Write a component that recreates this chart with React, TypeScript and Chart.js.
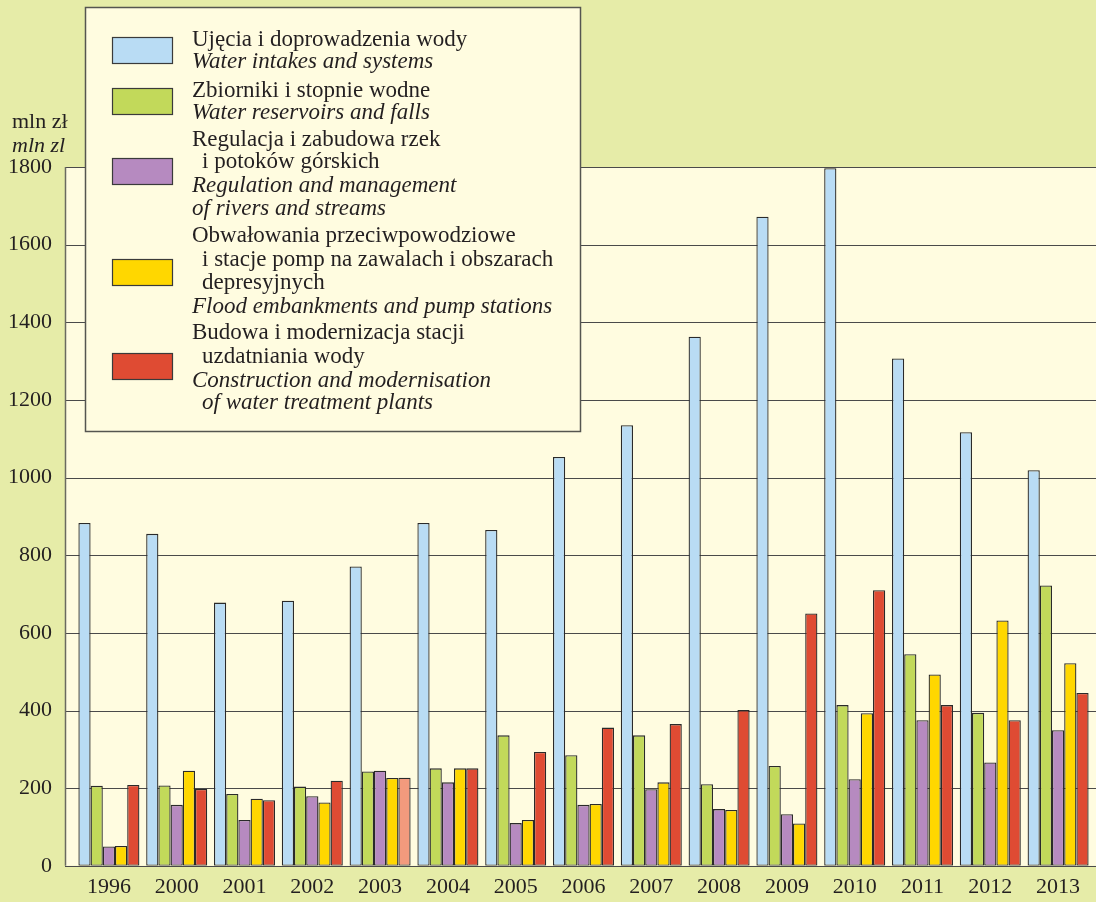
import React, { useEffect, useRef } from "react";
import { Chart, registerables } from "chart.js";

Chart.register(...registerables);

const years = ["1996", "2000", "2001", "2002", "2003", "2004", "2005", "2006", "2007", "2008", "2009", "2010", "2011", "2012", "2013"];
const intakes = [883, 855, 678, 683, 771, 883, 865, 1053, 1135, 1363, 1672, 1797, 1307, 1117, 1019];
const reservoirs = [206, 207, 185, 204, 243, 251, 336, 285, 336, 210, 257, 414, 545, 394, 722];
const regulation = [50, 157, 118, 179, 245, 215, 110, 157, 197, 146, 133, 223, 375, 266, 349];
const flood = [51, 245, 173, 163, 226, 251, 118, 159, 215, 144, 109, 393, 493, 632, 522];
const treatment = [208, 198, 169, 219, 227, 251, 293, 356, 365, 401, 650, 710, 414, 375, 445];

const yTitle = ["mln zł", "mln zl"];

const COLORS = {
  intakes: "#b9dcf4",
  reservoirs: "#c2d95a",
  regulation: "#b68ac0",
  flood: "#ffd700",
  treatment: "#df4b33",
  treatmentLight: "#f39a7d",
};

// legend lines: [text, italic, indent]
const legendGroups: { color: string; lines: [string, boolean, boolean][] }[] = [
  { color: COLORS.intakes, lines: [["Ujęcia i doprowadzenia wody", false, false], ["Water intakes and systems", true, false]] },
  { color: COLORS.reservoirs, lines: [["Zbiorniki i stopnie wodne", false, false], ["Water reservoirs and falls", true, false]] },
  {
    color: COLORS.regulation,
    lines: [
      ["Regulacja i zabudowa rzek", false, false],
      ["i potoków górskich", false, true],
      ["Regulation and management", true, false],
      ["of rivers and streams", true, false],
    ],
  },
  {
    color: COLORS.flood,
    lines: [
      ["Obwałowania przeciwpowodziowe", false, false],
      ["i stacje pomp na zawalach i obszarach", false, true],
      ["depresyjnych", false, true],
      ["Flood embankments and pump stations", true, false],
    ],
  },
  {
    color: COLORS.treatment,
    lines: [
      ["Budowa i modernizacja stacji", false, false],
      ["uzdatniania wody", false, true],
      ["Construction and modernisation", true, false],
      ["of water treatment plants", true, true],
    ],
  },
];

const legendBaselines = [46, 68.3, 96.7, 119.3, 145.7, 168.3, 191.7, 215, 242.3, 266, 288.7, 313.3, 339.3, 362.7, 386.7, 409.3];
const swatchTops = [37, 88, 158, 259, 353];

const OUTER = "#e6eca8";
const CREAM = "#fffce0";
const FONT = "'Liberation Serif', 'Times New Roman', serif";
const PLOT_LEFT = 65;

const decor = {
  id: "decor",
  beforeDraw(chart: any) {
    const { ctx, width, height, chartArea } = chart;
    ctx.save();
    ctx.fillStyle = OUTER;
    ctx.fillRect(0, 0, width, height);
    ctx.fillStyle = CREAM;
    ctx.fillRect(PLOT_LEFT, chartArea.top, width - PLOT_LEFT, chartArea.bottom - chartArea.top);
    ctx.restore();
  },
  beforeDatasetsDraw(chart: any) {
    const { ctx, width, chartArea } = chart;
    const ys = chart.scales.y;
    ctx.save();
    ctx.strokeStyle = "#4a4a4a";
    ctx.lineWidth = 1.2;
    ys.ticks.forEach((t: any) => {
      const py = Math.round(ys.getPixelForValue(t.value)) + 0.5;
      ctx.beginPath();
      ctx.moveTo(PLOT_LEFT, py);
      ctx.lineTo(width, py);
      ctx.stroke();
    });
    ctx.strokeStyle = "#6a6a60";
    ctx.lineWidth = 1.5;
    ctx.beginPath();
    ctx.moveTo(PLOT_LEFT + 0.5, chartArea.top);
    ctx.lineTo(PLOT_LEFT + 0.5, chartArea.bottom);
    ctx.stroke();
    ctx.restore();
  },
  afterDraw(chart: any) {
    const { ctx } = chart;
    ctx.save();
    // y title
    ctx.fillStyle = "#231f20";
    ctx.textAlign = "left";
    ctx.textBaseline = "alphabetic";
    ctx.font = `22px ${FONT}`;
    ctx.fillText(yTitle[0], 12, 128);
    ctx.font = `italic 22px ${FONT}`;
    ctx.fillText(yTitle[1], 12, 151.5);

    // legend box
    ctx.fillStyle = CREAM;
    ctx.fillRect(85, 7, 496, 424);
    ctx.strokeStyle = "#555550";
    ctx.lineWidth = 1.5;
    ctx.strokeRect(85.5, 7.5, 495, 424);

    let li = 0;
    legendGroups.forEach((g, gi) => {
      const st = swatchTops[gi];
      ctx.fillStyle = g.color;
      ctx.fillRect(112, st, 61, 27);
      ctx.strokeStyle = "#3a3a3a";
      ctx.lineWidth = 1.2;
      ctx.strokeRect(112.5, st + 0.5, 60, 26);
      g.lines.forEach(([text, italic, indent]) => {
        ctx.fillStyle = "#231f20";
        ctx.font = `${italic ? "italic " : ""}23px ${FONT}`;
        ctx.fillText(text, indent ? 202 : 192, legendBaselines[li]);
        li++;
      });
    });
    ctx.restore();
  },
};

export default function App() {
  const ref = useRef<HTMLCanvasElement | null>(null);
  useEffect(() => {
    if (!ref.current) return;
    const border = "#2a2a2a";
    const mk = (label: string, data: number[], color: string | string[]) => ({
      label,
      data,
      backgroundColor: color,
      borderColor: border,
      borderWidth: 1.3,
      borderSkipped: false,
      categoryPercentage: 0.9,
      barPercentage: 1.0,
    });
    const treatColors = years.map((y) => (y === "2003" ? COLORS.treatmentLight : COLORS.treatment));
    const chart = new Chart(ref.current, {
      type: "bar",
      data: {
        labels: years,
        datasets: [
          mk("Ujęcia i doprowadzenia wody", intakes, COLORS.intakes),
          mk("Zbiorniki i stopnie wodne", reservoirs, COLORS.reservoirs),
          mk("Regulacja i zabudowa rzek i potoków górskich", regulation, COLORS.regulation),
          mk("Obwałowania przeciwpowodziowe", flood, COLORS.flood),
          mk("Budowa i modernizacja stacji uzdatniania wody", treatment, treatColors),
        ] as any,
      },
      options: {
        animation: false,
        responsive: false,
        devicePixelRatio: 1,
        layout: { padding: { top: 167, right: 4, left: 0, bottom: 0 } },
        plugins: { legend: { display: false }, tooltip: { enabled: false } },
        scales: {
          x: {
            grid: { display: false, drawTicks: false, tickLength: 0 },
            border: { display: false },
            ticks: { color: "#231f20", font: { family: FONT, size: 22 }, padding: 8, maxRotation: 0, autoSkip: false },
            afterFit: (s: any) => {
              s.height = 35;
            },
          },
          y: {
            min: 0,
            max: 1800,
            grid: { display: false, drawTicks: false, tickLength: 0 },
            border: { display: false },
            ticks: {
              stepSize: 200,
              color: "#231f20",
              font: { family: FONT, size: 22 },
              padding: 23,
              callback: (v: any) => String(v),
            },
            afterFit: (s: any) => {
              s.width = 75;
            },
          },
        },
      },
      plugins: [decor],
    });
    return () => chart.destroy();
  }, []);
  return (
    <div style={{ position: "fixed", left: 0, top: 0, width: 1096, height: 902 }}>
      <canvas ref={ref} width={1096} height={902} style={{ display: "block" }} />
    </div>
  );
}
